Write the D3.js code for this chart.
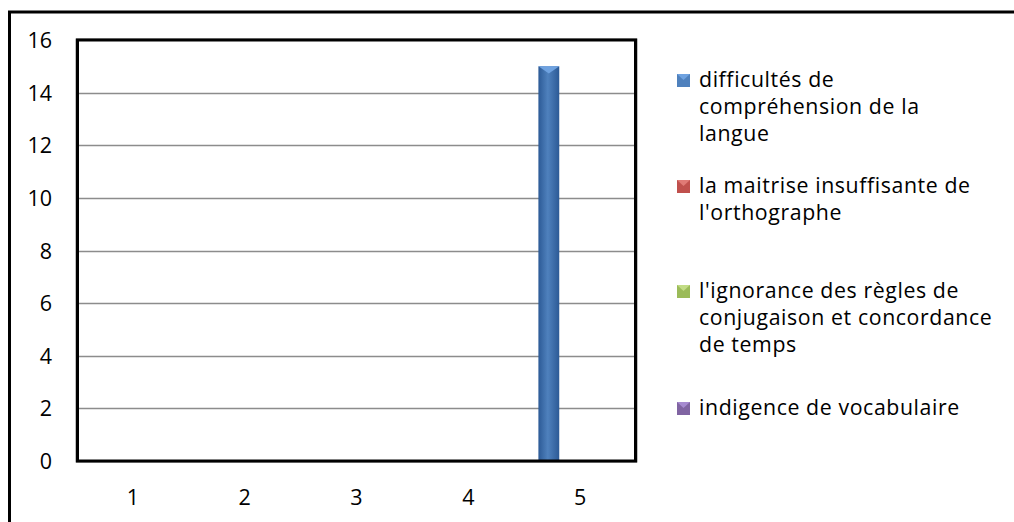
<!DOCTYPE html>
<html><head><meta charset="utf-8">
<script src="https://cdn.jsdelivr.net/npm/d3@7"></script>
<style>body{margin:0;background:#fff;}svg{display:block;}text{font-family:"Open Sans",sans-serif;fill:#000;}</style>
</head><body>
<svg id="c" width="1014" height="522"></svg>
<script>
const categories = ["1","2","3","4","5"];
const seriesNames = [
  "difficultés de compréhension de la langue",
  "la maitrise insuffisante de l'orthographe",
  "l'ignorance des règles de conjugaison et concordance de temps",
  "indigence de vocabulaire"
];
const legendLines = [
  ["difficultés de","compréhension de la","langue"],
  ["la maitrise insuffisante de","l'orthographe"],
  ["l'ignorance des règles de","conjugaison et concordance","de temps"],
  ["indigence de vocabulaire"]
];
const s1 = [0,0,0,0,15];
const s2 = [0,0,0,0,0];
const s3 = [0,0,0,0,0];
const s4 = [0,0,0,0,0];
const seriesValues = [s1,s2,s3,s4];
const yTicks = [0,2,4,6,8,10,12,14,16];
const colors = ["#4F81BD","#C0504D","#9BBB59","#8064A2"];
const colorsDark = ["#2c5a96","#8e2f2c","#6f8a38","#5a4478"];
const colorsLight = ["#6fa2e0","#e07a76","#c2dc85","#a68ad0"];

const svg = d3.select("#c");
const L=77, R=636, T=40, B=461;
const FS_AX = 21.5, FS_LEG = 21.3;
const FONT = "'Open Sans', sans-serif";
const x = d3.scaleBand().domain(categories).range([L,R]).paddingInner(0).paddingOuter(0);
const y = d3.scaleLinear().domain([0,16]).range([B,T]);
const gap = x.bandwidth()*0.127;
const xs = d3.scaleBand().domain(d3.range(seriesNames.length)).range([gap, x.bandwidth()-gap]).padding(0);

const defs = svg.append("defs");
colors.forEach((c,i)=>{
  const g = defs.append("linearGradient").attr("id","g"+i).attr("x1","0").attr("x2","1").attr("y1","0").attr("y2","0");
  g.append("stop").attr("offset","0%").attr("stop-color",colorsDark[i]);
  g.append("stop").attr("offset","45%").attr("stop-color",c);
  g.append("stop").attr("offset","100%").attr("stop-color",colorsDark[i]);
});

// outer chart border
svg.append("path").attr("d","M9.5,530 V12 H1020").attr("fill","none").attr("stroke","#000").attr("stroke-width",3);

// gridlines
svg.append("g").selectAll("line").data(yTicks.filter(d=>d>0&&d<16)).join("line")
  .attr("x1",L).attr("x2",R).attr("y1",d=>Math.round(y(d))+0.5).attr("y2",d=>Math.round(y(d))+0.5)
  .attr("stroke","#8c8c8c").attr("stroke-width",1.3);

// y axis labels
const yAxis = d3.axisLeft(y).tickValues(yTicks).tickSize(0).tickPadding(0).tickFormat(d3.format("d"));
const ya = svg.append("g").attr("transform","translate(52,0)").call(yAxis);
ya.select(".domain").remove();
ya.selectAll("text").attr("font-size",FS_AX).attr("font-family",FONT).attr("fill","#000").attr("dy","0.35em");

// x axis labels
const xAxis = d3.axisBottom(x).tickSize(0).tickPadding(0);
const xa = svg.append("g").attr("transform","translate(0,"+(B+36)+")").call(xAxis);
xa.select(".domain").remove();
xa.selectAll("text").attr("font-size",FS_AX).attr("font-family",FONT).attr("fill","#000").attr("dy","0.35em");

// bars
const bars = [];
seriesValues.forEach((vals,si)=>vals.forEach((v,ci)=>bars.push({si,ci,v})));
const bg = svg.append("g");
bg.selectAll("rect").data(bars.filter(d=>d.v>0)).join("rect")
  .attr("x",d=>x(categories[d.ci])+xs(d.si)).attr("width",xs.bandwidth())
  .attr("y",d=>y(d.v)).attr("height",d=>y(0)-y(d.v))
  .attr("fill",d=>"url(#g"+d.si+")");
// bevel top
bg.selectAll("path").data(bars.filter(d=>d.v>0)).join("path")
  .attr("d",d=>{const x0=x(categories[d.ci])+xs(d.si), w=xs.bandwidth(), y0=y(d.v), h=Math.min(w*0.35,8);
     return `M${x0},${y0} H${x0+w} L${x0+w/2},${y0+h} Z`;})
  .attr("fill",d=>colorsLight[d.si]);

// plot border
svg.append("rect").attr("x",L-1).attr("y",T-1).attr("width",R-L+2).attr("height",B-T+2)
  .attr("fill","none").attr("stroke","#808080").attr("stroke-width",1);
svg.append("rect").attr("x",L+0.5).attr("y",T).attr("width",R-L-1).attr("height",B-T)
  .attr("fill","none").attr("stroke","#000").attr("stroke-width",3);

// legend
const legY = [80,186,291,408];
const lg = svg.append("g");
legendLines.forEach((lines,i)=>{
  const cy = legY[i];
  lg.append("rect").attr("x",677).attr("y",cy-6).attr("width",13).attr("height",13).attr("fill",colors[i]);
  lg.append("path").attr("d",`M677,${cy-6} H690 L683.5,${cy} Z`).attr("fill",colorsLight[i]);
  lines.forEach((t,j)=>{
    lg.append("text").attr("x",699).attr("y",cy+j*26.7).attr("dy","0.35em").attr("font-size",FS_LEG)
      .attr("letter-spacing","0.6px").attr("font-family",FONT).text(t);
  });
});
</script>
</body></html>
